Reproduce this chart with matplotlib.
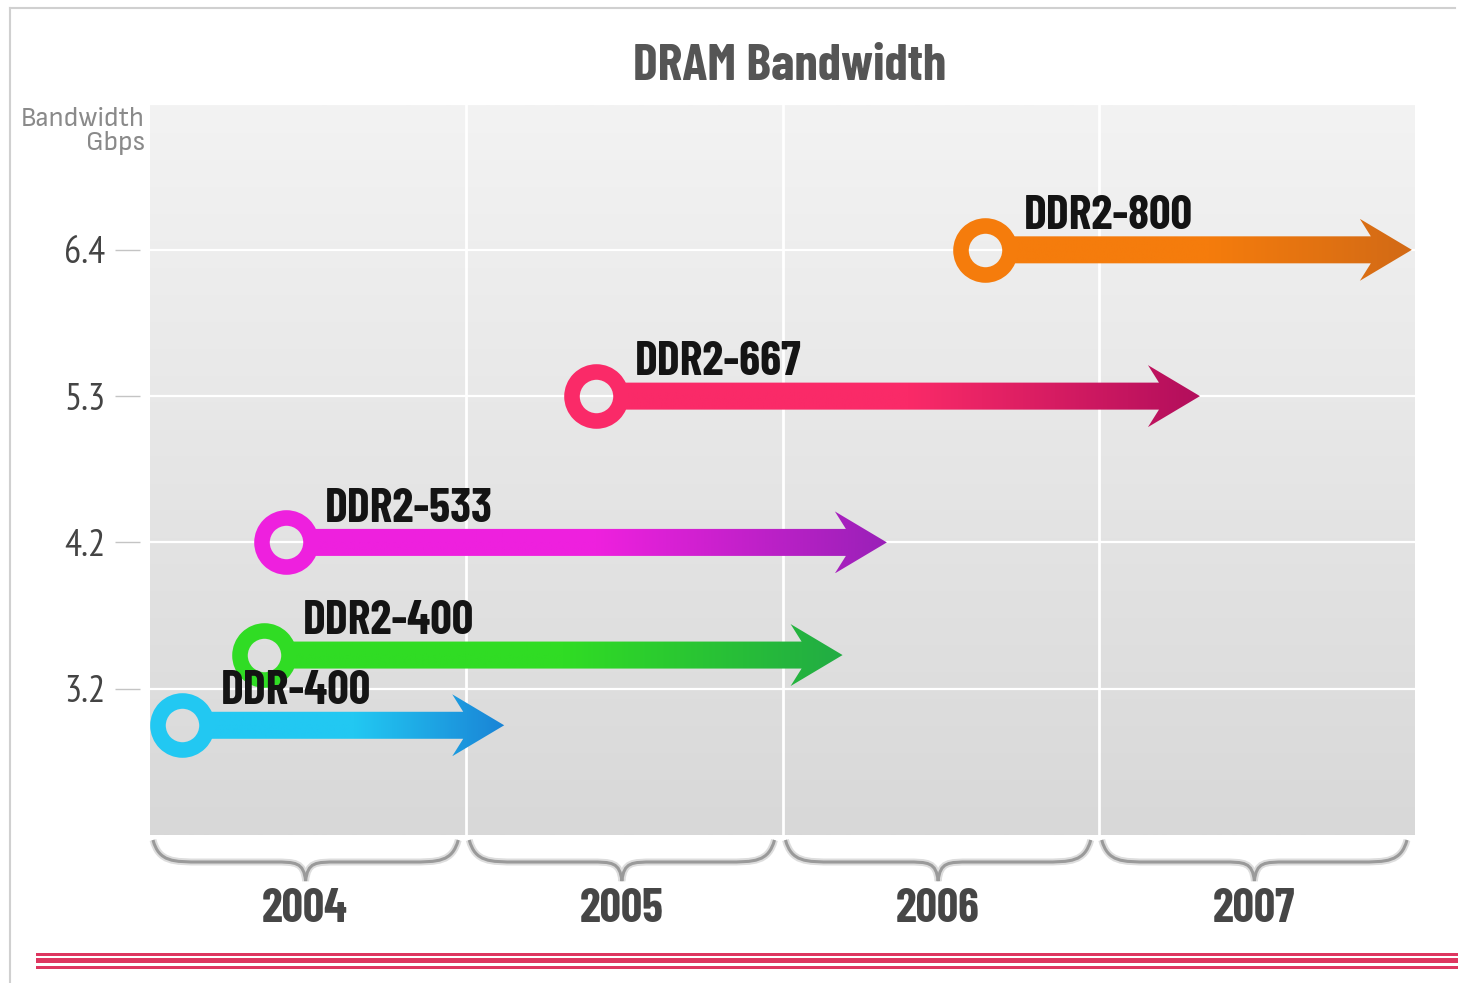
import numpy as np
import matplotlib
matplotlib.use("Agg")
import matplotlib.pyplot as plt
from matplotlib import font_manager
from matplotlib.font_manager import FontProperties
from matplotlib.textpath import TextPath
from matplotlib.colors import LinearSegmentedColormap
from matplotlib.patches import Polygon, PathPatch, Rectangle
from matplotlib.path import Path
from matplotlib.lines import Line2D

# data
names = ["DDR-400", "DDR2-400", "DDR2-533", "DDR2-667", "DDR2-800"]
start_year = [2004.10, 2004.36, 2004.43, 2005.41, 2006.64]
end_year = [2005.12, 2006.19, 2006.33, 2007.32, 2007.99]
level = [-0.25, 0.23, 1.0, 2.0, 3.0]      # place on the bandwidth scale below
color_a = ["#22c8f2", "#30dc24", "#ee20de", "#fa2a68", "#f57c0c"]
color_b = ["#1a84d6", "#22ac44", "#9a20b8", "#b20e5c", "#d26a16"]
bw_labels = ["3.2", "4.2", "5.3", "6.4"]
years = [2004, 2005, 2006, 2007]


# the original uses a condensed face; take the installed narrow face whose
# width/height ratio for a sample string comes closest to the original's
def pick_font(bold, sample, ratio):
    best = None
    for f in font_manager.fontManager.ttflist:
        key = (f.name + " " + f.fname).lower()
        if "condensed" not in key and "narrow" not in key:
            continue
        if f.style != "normal" or "italic" in key:
            continue
        w = f.weight if isinstance(f.weight, int) else font_manager.weight_dict.get(f.weight, 400)
        if bold and w != 700:
            continue
        if not bold and w != 400:
            continue
        try:
            ext = TextPath((0, 0), sample, size=100,
                           prop=FontProperties(fname=f.fname)).get_extents()
        except Exception:
            continue
        err = abs(ext.width / ext.height - ratio)
        if best is None or err < best[0]:
            best = (err, f.fname)
    return best[1] if best else None

fb = pick_font(True, "DDR2-800", 168 / 35)
fr = pick_font(False, "Bandwidth", 122 / 20)
ft = pick_font(False, "6.4", 40 / 29)

def fprop(fname, size, bold=False):
    if fname:
        return FontProperties(fname=fname, size=size)
    return FontProperties(family="DejaVu Sans", weight="bold" if bold else "normal", size=size)

W, H = 1458, 983
fig = plt.figure(figsize=(W / 100, H / 100), dpi=100)
ax = fig.add_axes([150 / W, 1 - 835 / H, 1265 / W, 730 / H])

x0, x1 = 2004, 2008
y0, y1 = -1.0, 3.99
px_x = 1265 / (x1 - x0)     # pixels per year
px_y = 730 / (y1 - y0)      # pixels per level

# background gradient
bg = LinearSegmentedColormap.from_list("bg", ["#d8d8d8", "#f3f3f3"])
ax.imshow(np.linspace(0, 1, 256)[:, None], extent=[x0, x1, y0, y1], origin="lower",
          aspect="auto", cmap=bg, zorder=0)

for i in range(len(bw_labels)):
    ax.axhline(i, color="white", lw=1.6, zorder=1)
for yr in years[1:]:
    ax.axvline(yr, color="white", lw=2, zorder=1)

# arrows
sh = 13.5 / px_y
hh = 31 / px_y
arrow_texts = []
for nm, xs, xe, lv, ca, cb in zip(names, start_year, end_year, level, color_a, color_b):
    xa = xs + 22 / px_x
    j = xe - 41 / px_x
    b = xe - 52 / px_x
    poly = Polygon([(xa, lv - sh), (j, lv - sh), (b, lv - hh), (xe, lv), (b, lv + hh),
                    (j, lv + sh), (xa, lv + sh)], closed=True, fc="none", ec="none",
                   transform=ax.transData)
    ax.add_patch(poly)
    cm = LinearSegmentedColormap.from_list(nm, [(0, ca), (0.5, ca), (1, cb)])
    im = ax.imshow(np.linspace(0, 1, 256)[None, :], extent=[xa, xe, lv - hh, lv + hh],
                   aspect="auto", cmap=cm, zorder=3)
    im.set_clip_path(poly)
    ax.plot([xs], [lv], marker="o", ms=35.3, mew=11.2, mfc="none", mec=ca, zorder=5)
    t = ax.annotate(nm, (xs, lv), xytext=(28, 24), textcoords="offset points",
                    ha="left", va="center", fontproperties=fprop(fb, 32, True),
                    color="#141414", zorder=6)
    arrow_texts.append(t)

ax.set_xlim(x0, x1)
ax.set_ylim(y0, y1)
ax.set_xticks([])
ax.spines["left"].set_position(("outward", 7.2))
for s in ax.spines.values():
    s.set_visible(False)
ax.set_yticks(range(len(bw_labels)))
ax.set_yticklabels(bw_labels)
ax.tick_params(axis="y", length=18, width=1, color="#c4c4c4", pad=7)
for lab in ax.get_yticklabels():
    lab.set_fontproperties(fprop(ft, 28))
    lab.set_color("#444444")

# year braces
tr = ax.get_xaxis_transform()
def fy(py):
    return (835 - py) / 730
top, body, cusp = fy(840), fy(862), fy(881)
year_texts = []
for yr in years:
    a = yr + 3 / px_x
    e = yr + 1 - 8 / px_x
    m = (a + e) / 2
    d = lambda p: p / px_x
    verts = [(a, top),
             (a + d(6), body), (a + d(20), body), (a + d(48), body),
             (m - d(32), body),
             (m - d(10), body), (m - d(2), body), (m, cusp),
             (m + d(2), body), (m + d(10), body), (m + d(32), body),
             (e - d(48), body),
             (e - d(20), body), (e - d(6), body), (e, top)]
    codes = [Path.MOVETO, Path.CURVE4, Path.CURVE4, Path.CURVE4, Path.LINETO,
             Path.CURVE4, Path.CURVE4, Path.CURVE4, Path.CURVE4, Path.CURVE4, Path.CURVE4,
             Path.LINETO, Path.CURVE4, Path.CURVE4, Path.CURVE4]
    pth = Path(verts, codes)
    ax.add_patch(PathPatch(pth, fc="none", ec="#dddddd", lw=5, transform=tr, clip_on=False))
    ax.add_patch(PathPatch(pth, fc="none", ec="#9a9a9a", lw=2.2, transform=tr, clip_on=False))
    t = ax.text(yr + 0.49, fy(910), str(yr), transform=tr, ha="center", va="center",
                fontproperties=fprop(fb, 34, True), color="#464646")
    year_texts.append(t)

# titles
title = fig.text(790 / W, 1 - 66 / H, "DRAM Bandwidth", ha="center", va="center",
                 fontproperties=fprop(fb, 32, True), color="#555555")
unit = fig.text(145 / W, 1 - 131 / H, "Bandwidth\nGbps", ha="right", va="center",
                multialignment="right", fontproperties=fprop(fr, 23), color="#8a8a8a",
                linespacing=0.95)

# frame and red bottom rule
fig.add_artist(Line2D([10 / W, 10 / W], [0, 1 - 8 / H], color="#d0d0d0", lw=1.5,
                      transform=fig.transFigure))
fig.add_artist(Line2D([10 / W, 1455 / W], [1 - 8 / H, 1 - 8 / H], color="#d0d0d0", lw=1.5,
                      transform=fig.transFigure))
for ya, hgt in [(953.3, 2.4), (957.7, 5.6), (965.7, 3.0)]:
    fig.add_artist(Rectangle((36 / W, 1 - (ya + hgt) / H), 1 - 36 / W, hgt / H,
                             transform=fig.transFigure, fc="#de3660", ec="none"))

# scale text sizes so the widths match the chart
fig.canvas.draw()
r = fig.canvas.get_renderer()
def fit(texts, ref, target):
    w = ref.get_window_extent(r).width
    k = target / w
    for t in texts:
        t.set_fontsize(t.get_fontsize() * k)
fit(arrow_texts, arrow_texts[-1], 170)
fit(year_texts, year_texts[0], 86)
fit([title], title, 314)
fit([unit], unit, 124)
ticks = ax.get_yticklabels()
fit(ticks, ticks[-1], 41)

fig.savefig("out.png", dpi=100)
